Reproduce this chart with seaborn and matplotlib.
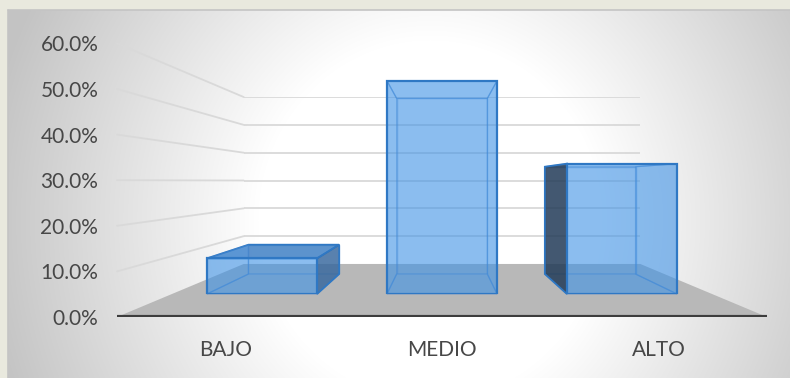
import numpy as np
import pandas as pd
import matplotlib
matplotlib.use("Agg")
import matplotlib.pyplot as plt
from matplotlib.patches import Polygon
import seaborn as sns

# ---- data -------------------------------------------------------------
categories = ["BAJO", "MEDIO", "ALTO"]
values = [9.4, 56.3, 34.4]            # percent
y_ticks = [0, 10, 20, 30, 40, 50, 60]
y_tick_labels = [f"{t:.1f}%" for t in y_ticks]

# ---- style ------------------------------------------------------------
sns.set_theme(style="white")
plt.rcParams["font.family"] = ["Lato", "DejaVu Sans"]
TEXT = "#474747"
BLUE = np.array([62, 146, 230]) / 255
EDGE = "#2f78c4"
EDGE_IN = (0.28, 0.52, 0.80, 0.50)
GRID = "#d9d9d9"

W, H = 790, 378
fig = plt.figure(figsize=(W / 100, H / 100), dpi=100)
fig.patch.set_facecolor("#e9e9de")

# one-point perspective: vanishing point and the front plane geometry (px)
VP_X, VP_Y = 442, 181
FRONT_Y0 = 317
HALF_W = 325
PX_PER_PCT = 4.56
Y_MAX = 60


def plane_axes(s, z):
    """Axes whose data space is the chart plane at depth scale s."""
    y0 = VP_Y + s * (FRONT_Y0 - VP_Y)
    left = VP_X - s * HALF_W
    ax = fig.add_axes([left / W, 1 - y0 / H, 2 * s * HALF_W / W,
                       s * PX_PER_PCT * Y_MAX / H], zorder=z)
    ax.set_xlim(-0.5, 2.5)
    ax.set_ylim(0, Y_MAX)
    ax.patch.set_alpha(0)
    return ax


def overlay(z):
    ax = fig.add_axes([0, 0, 1, 1], zorder=z)
    ax.set_xlim(0, W)
    ax.set_ylim(H, 0)
    ax.axis("off")
    ax.patch.set_alpha(0)
    return ax


# ---- chart area background (radial gradient) --------------------------
bg = overlay(-5)
yy, xx = np.mgrid[0:H, 0:W]
r = np.sqrt(((xx - 430) / 430) ** 2 + ((yy - 220) / 450) ** 2)
g = 255 - 60 * np.clip((r - 0.4) / 0.65, 0, 1)
img = np.dstack([g, g, g]) / 255
bg.imshow(img[10:, 8:], extent=(8, W, H, 10), aspect="auto", zorder=0)
bg.plot([8, W], [10, 10], color="#c4c4c4", lw=1.2, zorder=1)
bg.plot([8, 8], [10, H], color="#c4c4c4", lw=1.2, zorder=1)

S_WALL, S_BACK, S_FRONT = 0.61, 0.684, 0.831

ax_wall = plane_axes(S_WALL, 1)
ov_floor = overlay(2)
ax_back = plane_axes(S_BACK, 3)
ov_faces = overlay(4)
ax_front = plane_axes(S_FRONT, 5)
ax_lab = plane_axes(1.0, 6)


def to_px(ax, x, y):
    return ov_floor.transData.inverted().transform(ax.transData.transform((x, y)))


# ---- back wall gridlines ----------------------------------------------
ax_wall.axis("off")
for t in y_ticks[1:]:
    ax_wall.axhline(t, color=GRID, lw=1.3)

# ---- floor and side wall gridlines -----------------------------------
floor = [to_px(ax_lab, -0.5, 0), to_px(ax_lab, 2.5, 0),
         to_px(ax_wall, 2.5, 0), to_px(ax_wall, -0.5, 0)]
ov_floor.add_patch(Polygon(floor, closed=True, facecolor="#b8b8b8",
                           edgecolor="none"))
for t in y_ticks[1:]:
    p0 = to_px(ax_lab, -0.5, t)
    p1 = to_px(ax_wall, -0.5, t)
    ov_floor.plot([p0[0], p1[0]], [p0[1], p1[1]], color=GRID, lw=1.3)

# ---- bars: back faces and front faces through seaborn -----------------
df = pd.DataFrame({"nivel": categories, "porcentaje": values})
BAR_W = 0.612

sns.barplot(data=df, x="nivel", y="porcentaje", ax=ax_back, color=BLUE,
            width=BAR_W, saturation=1)
for p in ax_back.patches:
    p.set_facecolor((*BLUE, 0.26))
    p.set_edgecolor(EDGE_IN)
    p.set_linewidth(1.0)

sns.barplot(data=df, x="nivel", y="porcentaje", ax=ax_front, color=BLUE,
            width=BAR_W, saturation=1)
for p in ax_front.patches:
    p.set_facecolor((*BLUE, 0.46))
    p.set_edgecolor(EDGE)
    p.set_linewidth(1.6)

for ax in (ax_back, ax_front):
    ax.set_xlim(-0.5, 2.5)
    ax.set_ylim(0, Y_MAX)
    ax.axis("off")

# ---- connecting faces of each box -------------------------------------
half = BAR_W / 2
for i, v in enumerate(values):
    fTL, fTR = to_px(ax_front, i - half, v), to_px(ax_front, i + half, v)
    fBL, fBR = to_px(ax_front, i - half, 0), to_px(ax_front, i + half, 0)
    bTL, bTR = to_px(ax_back, i - half, v), to_px(ax_back, i + half, v)
    bBL, bBR = to_px(ax_back, i - half, 0), to_px(ax_back, i + half, 0)

    faces = [
        ([fTL, fTR, bTR, bTL], bTL[1] < fTL[1] - 0.5, (0.24, 0.49, 0.76, 0.78)),
        ([fBL, fBR, bBR, bBL], False, None),
        ([fTL, fBL, bBL, bTL], bTL[0] < fTL[0] - 0.5, (0.13, 0.21, 0.31, 0.80)),
        ([fTR, fBR, bBR, bTR], bTR[0] > fTR[0] + 0.5, (0.22, 0.40, 0.60, 0.78)),
    ]
    for pts, visible, shade in faces:
        if visible:
            ov_faces.add_patch(Polygon(pts, closed=True, facecolor=shade,
                                       edgecolor=EDGE, lw=1.3))
        else:
            # inner faces show through the translucent front face
            ov_faces.add_patch(Polygon(pts, closed=True,
                                       facecolor=(*BLUE, 0.26),
                                       edgecolor=EDGE_IN, lw=0.9))

# ---- front axis line, tick labels -------------------------------------
ax_lab.axhline(0, color="#3d3d3d", lw=3, solid_capstyle="round")
ax_lab.set_xticks(range(len(categories)), categories)
ax_lab.set_yticks(y_ticks, y_tick_labels)
ax_lab.tick_params(axis="y", length=0, pad=13.5, labelsize=15, labelcolor=TEXT)
ax_lab.tick_params(axis="x", length=0, pad=16.5, labelsize=15, labelcolor=TEXT)
for sp in ax_lab.spines.values():
    sp.set_visible(False)
ax_lab.grid(False)

fig.savefig("out.png", dpi=100)
